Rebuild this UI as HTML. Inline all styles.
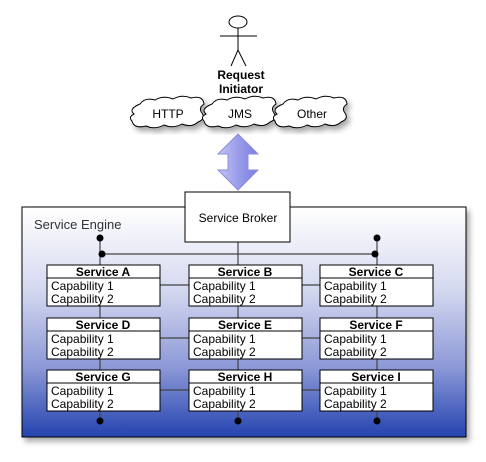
<!DOCTYPE html>
<html><head><meta charset="utf-8"><style>
html,body{margin:0;padding:0;background:#fff;}
svg{display:block;font-family:"Liberation Sans",Arial,sans-serif;}
</style></head><body>
<svg width="486" height="462" viewBox="0 0 486 462" xmlns="http://www.w3.org/2000/svg">
<defs>
<linearGradient id="bg" x1="0" y1="0" x2="0" y2="1">
<stop offset="0" stop-color="#ffffff"/><stop offset="0.35" stop-color="#d6daf0"/><stop offset="0.7" stop-color="#8b98d6"/><stop offset="1" stop-color="#2443b0"/>
</linearGradient>
<linearGradient id="ar" x1="0" y1="0" x2="1" y2="0">
<stop offset="0" stop-color="#c4c6f4"/><stop offset="0.5" stop-color="#9a9cea"/><stop offset="1" stop-color="#7b7ddc"/>
</linearGradient>
<filter id="sh" x="-10%" y="-10%" width="130%" height="130%"><feDropShadow dx="3" dy="4" stdDeviation="3" flood-color="#000" flood-opacity="0.35"/></filter>
</defs>
<!-- outer box -->
<rect x="22" y="207" width="444" height="230" fill="url(#bg)" stroke="#000" stroke-width="1" filter="url(#sh)"/>
<text x="34" y="229" font-size="13" fill="#333">Service Engine</text>
<!-- stick figure -->
<g stroke="#000" stroke-width="1" fill="none">
<ellipse cx="238" cy="22" rx="9" ry="6" fill="#fff"/>
<line x1="238" y1="28" x2="238" y2="50"/>
<line x1="220" y1="36" x2="257" y2="36"/>
<line x1="238" y1="50" x2="231" y2="66"/>
<line x1="238" y1="50" x2="246" y2="66"/>
</g>
<text x="241" y="79" font-size="12" font-weight="bold" text-anchor="middle">Request</text>
<text x="241" y="93" font-size="12" font-weight="bold" text-anchor="middle">Initiator</text>
<!-- clouds -->
<g fill="#fff" stroke="#000" stroke-width="1" filter="url(#sh)">
<path d="M140,104 q5,-7 15,-4 q8,-5 18,-1 q9,-5 18,-1 q12,-3 13,6 q-6,4 -2,9 q4,6 -4,9 q-6,6 -16,2 q-9,5 -18,1 q-9,5 -18,1 q-12,3 -14,-5 q-4,-4 2,-7 q-6,-5 6,-10z"/>
<path d="M212,104 q5,-7 15,-4 q8,-5 18,-1 q9,-5 18,-1 q12,-3 13,6 q-6,4 -2,9 q4,6 -4,9 q-6,6 -16,2 q-9,5 -18,1 q-9,5 -18,1 q-12,3 -14,-5 q-4,-4 2,-7 q-6,-5 6,-10z"/>
<path d="M283,104 q5,-7 15,-4 q8,-5 18,-1 q9,-5 18,-1 q12,-3 13,6 q-6,4 -2,9 q4,6 -4,9 q-6,6 -16,2 q-9,5 -18,1 q-9,5 -18,1 q-12,3 -14,-5 q-4,-4 2,-7 q-6,-5 6,-10z"/>
</g>
<g font-size="12" text-anchor="middle">
<text x="168" y="118">HTTP</text><text x="240" y="118">JMS</text><text x="312" y="118">Other</text>
</g>
<!-- arrow -->
<path d="M238,134 L258,154 L248,154 L248,170 L258,170 L238,190 L218,170 L228,170 L228,154 L218,154 Z" fill="url(#ar)" stroke="#8c8ee0" stroke-width="1"/>
<!-- connectors -->
<g stroke="#444" stroke-width="1.2" fill="none">
<line x1="100" y1="238" x2="100" y2="421"/>
<line x1="377" y1="238" x2="377" y2="421"/>
<line x1="238" y1="242" x2="238" y2="421"/>
<line x1="100" y1="254" x2="377" y2="254"/>
<line x1="160" y1="285" x2="320" y2="285"/>
<line x1="160" y1="338" x2="320" y2="338"/>
<line x1="160" y1="390" x2="320" y2="390"/>
</g>
<g fill="#000">
<circle cx="100" cy="238" r="3.5"/><circle cx="102" cy="254" r="3.5"/>
<circle cx="377" cy="238" r="3.5"/><circle cx="375" cy="254" r="3.5"/>
<circle cx="100" cy="421" r="3.5"/><circle cx="238" cy="421" r="3.5"/><circle cx="377" cy="421" r="3.5"/>
</g>
<!-- broker -->
<rect x="185" y="192" width="105" height="50" fill="#fff" stroke="#000"/>
<text x="238" y="222" font-size="12" text-anchor="middle">Service Broker</text>
<!-- services -->
<g font-size="12">
<g transform="translate(47,265)"><rect width="113" height="41" fill="#fff" stroke="#000"/><line x1="0" y1="13" x2="113" y2="13" stroke="#000"/><text x="56" y="11" font-weight="bold" text-anchor="middle">Service A</text><text x="4" y="25">Capability 1</text><text x="4" y="38">Capability 2</text></g>
<g transform="translate(189,265)"><rect width="113" height="41" fill="#fff" stroke="#000"/><line x1="0" y1="13" x2="113" y2="13" stroke="#000"/><text x="56" y="11" font-weight="bold" text-anchor="middle">Service B</text><text x="4" y="25">Capability 1</text><text x="4" y="38">Capability 2</text></g>
<g transform="translate(320,265)"><rect width="113" height="41" fill="#fff" stroke="#000"/><line x1="0" y1="13" x2="113" y2="13" stroke="#000"/><text x="56" y="11" font-weight="bold" text-anchor="middle">Service C</text><text x="4" y="25">Capability 1</text><text x="4" y="38">Capability 2</text></g>
<g transform="translate(47,318)"><rect width="113" height="41" fill="#fff" stroke="#000"/><line x1="0" y1="13" x2="113" y2="13" stroke="#000"/><text x="56" y="11" font-weight="bold" text-anchor="middle">Service D</text><text x="4" y="25">Capability 1</text><text x="4" y="38">Capability 2</text></g>
<g transform="translate(189,318)"><rect width="113" height="41" fill="#fff" stroke="#000"/><line x1="0" y1="13" x2="113" y2="13" stroke="#000"/><text x="56" y="11" font-weight="bold" text-anchor="middle">Service E</text><text x="4" y="25">Capability 1</text><text x="4" y="38">Capability 2</text></g>
<g transform="translate(320,318)"><rect width="113" height="41" fill="#fff" stroke="#000"/><line x1="0" y1="13" x2="113" y2="13" stroke="#000"/><text x="56" y="11" font-weight="bold" text-anchor="middle">Service F</text><text x="4" y="25">Capability 1</text><text x="4" y="38">Capability 2</text></g>
<g transform="translate(47,370)"><rect width="113" height="41" fill="#fff" stroke="#000"/><line x1="0" y1="13" x2="113" y2="13" stroke="#000"/><text x="56" y="11" font-weight="bold" text-anchor="middle">Service G</text><text x="4" y="25">Capability 1</text><text x="4" y="38">Capability 2</text></g>
<g transform="translate(189,370)"><rect width="113" height="41" fill="#fff" stroke="#000"/><line x1="0" y1="13" x2="113" y2="13" stroke="#000"/><text x="56" y="11" font-weight="bold" text-anchor="middle">Service H</text><text x="4" y="25">Capability 1</text><text x="4" y="38">Capability 2</text></g>
<g transform="translate(320,370)"><rect width="113" height="41" fill="#fff" stroke="#000"/><line x1="0" y1="13" x2="113" y2="13" stroke="#000"/><text x="56" y="11" font-weight="bold" text-anchor="middle">Service I</text><text x="4" y="25">Capability 1</text><text x="4" y="38">Capability 2</text></g>
</g>
</svg>
</body></html>
